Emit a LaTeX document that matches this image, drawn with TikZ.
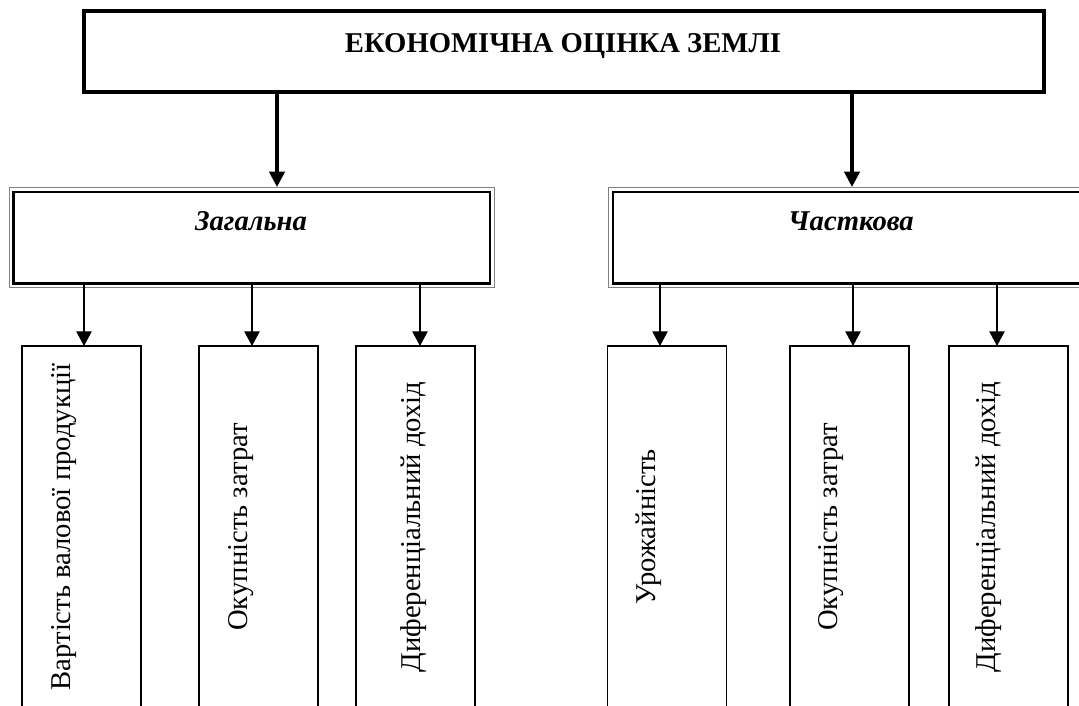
\documentclass[tikz,border=0pt]{standalone}
\usepackage{fontspec}
\setmainfont{Liberation Serif}
\usetikzlibrary{arrows.meta}

\begin{document}
\begin{tikzpicture}[x=0.75pt,y=0.75pt,
    topbox/.style={draw, line width=2.5pt, minimum width=720pt, minimum height=60.75pt},
    groupbox/.style={draw, line width=1.7pt, minimum width=357.4pt, minimum height=68.6pt},
    itembox/.style={draw, line width=1.1pt, minimum width=89.25pt, minimum height=277.5pt},
    bigarr/.style={line width=2.5pt, -{Triangle[width=11.5pt,length=11.5pt]}},
    arr/.style={line width=1.1pt, -{Triangle[width=11.5pt,length=11pt]}},
    itemtext/.style={rotate=90, anchor=base, inner sep=0pt, font=\fontsize{21.5}{26}\selectfont},
    grouptext/.style={anchor=base, inner sep=0pt, font=\bfseries\itshape\fontsize{21.5}{26}\selectfont}
]
       \clip (0,0) rectangle (1079,-706);

       % head
       \node[topbox] (top) at (564,-51.5) {};
       \node[anchor=base, inner sep=0pt, font=\bfseries\fontsize{21.5}{26}\selectfont] (title) at (563,-53) {ЕКОНОМІЧНА ОЦІНКА ЗЕМЛІ};

       % two kinds
       \node[groupbox] (zag) at (251.75,-237.75) {};
       \draw[gray, line width=0.75pt] ([shift={(-3,3)}]zag.north west) rectangle ([shift={(3,-3)}]zag.south east);
       \node[grouptext] (zagtext) at (251,-231) {Загальна};
       \node[groupbox] (chast) at (851,-237.75) {};
       \draw[gray, line width=0.75pt] ([shift={(-3,3)}]chast.north west) rectangle ([shift={(3,-3)}]chast.south east);
       \node[grouptext] (chasttext) at (851,-231) {Часткова};

       \coordinate (t1) at (277,-187);
       \coordinate (t2) at (852,-187);
       \draw[bigarr] (top.south -| t1) -- (t1);
       \draw[bigarr] (top.south -| t2) -- (t2);

       % items
       \node[itembox] (b1) at (81.5,-531) {};
       \node[itembox] (b2) at (258.5,-531) {};
       \node[itembox] (b3) at (415.5,-531) {};
       \node[itembox] (b4) at (667,-531) {};
       \node[itembox] (b5) at (849.5,-531) {};
       \node[itembox] (b6) at (1008.5,-531) {};

       \node[itemtext] (b1text) at (70,-527) {Вартість валової продукції};
       \node[itemtext] (b2text) at (247,-527) {Окупність затрат};
       \node[itemtext] (b3text) at (420,-527) {Диференціальний дохід};
       \node[itemtext] (b4text) at (655,-527) {Урожайність};
       \node[itemtext] (b5text) at (837,-527) {Окупність затрат};
       \node[itemtext] (b6text) at (995,-527) {Диференціальний дохід};

       \coordinate (a1) at (84,-346);
       \coordinate (a2) at (252,-346);
       \coordinate (a3) at (420,-346);
       \coordinate (a4) at (660,-346);
       \coordinate (a5) at (853,-346);
       \coordinate (a6) at (997,-346);
       \draw[arr] (zag.south -| a1) -- (a1);
       \draw[arr] (zag.south -| a2) -- (a2);
       \draw[arr] (zag.south -| a3) -- (a3);
       \draw[arr] (chast.south -| a4) -- (a4);
       \draw[arr] (chast.south -| a5) -- (a5);
       \draw[arr] (chast.south -| a6) -- (a6);
      \end{tikzpicture}
\end{document}
